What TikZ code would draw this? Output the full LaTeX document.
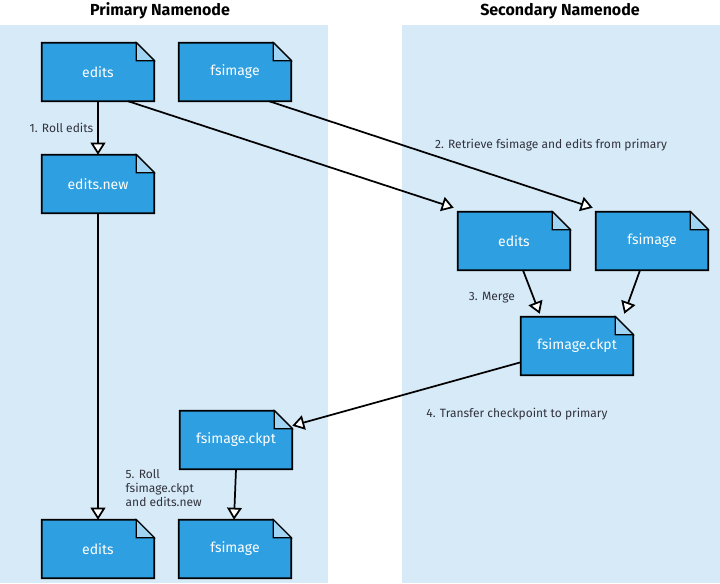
\documentclass[tikz,border=0pt]{standalone}
\usepackage{fontspec}
\setmainfont{Fira Sans}
\usetikzlibrary{arrows.meta,calc,backgrounds}
\definecolor{panel}{RGB}{214,234,248}
\definecolor{docblue}{RGB}{46,159,224}
\definecolor{foldblue}{RGB}{160,212,242}
\definecolor{labelgray}{RGB}{50,50,60}
\begin{document}
\begin{tikzpicture}[x=0.75pt,y=-0.75pt,
  doc/.style={rectangle,minimum width=84pt,minimum height=43.5pt,inner sep=0pt,
    text=white,font=\fontsize{10.5}{12}\selectfont},
  flow/.style={line width=1.3pt,-{Triangle[open,fill=white,length=9pt,width=11pt]}},
  steplabel/.style={text=labelgray,font=\fontsize{9}{10.5}\selectfont},
  title/.style={font=\bfseries\fontsize{12}{14}\selectfont}]
\useasboundingbox (0,0) rectangle (720,583);
\node[title] (ptitle) at (160,11) {Primary Namenode};
\node[title] (stitle) at (560,11) {Secondary Namenode};
% documents
\node[doc] (edits) at (98,72) {edits};
\node[doc] (fsimage) at (235,72) {fsimage};
\node[doc] (editsnew) at (98,184) {edits.new};
\node[doc] (sedits) at (514,241) {edits};
\node[doc] (sfsimage) at (652,241) {fsimage};
\node[doc] (sckpt) at (577,346) {fsimage.ckpt};
\node[doc] (pckpt) at (236,440) {fsimage.ckpt};
\node[doc] (newedits) at (98,549) {edits};
\node[doc] (newfsimage) at (235,549) {fsimage};
\begin{scope}[on background layer]
% panels
\fill[panel] (0,25) rectangle (328,583);
\fill[panel] (402,25) rectangle (720,583);
\foreach \d in {edits,fsimage,editsnew,sedits,sfsimage,sckpt,pckpt,newedits,newfsimage}{
  \filldraw[fill=docblue,draw=black,line width=1.3pt] (\d.north west) -- ($(\d.north east)+(-18,0)$)
    -- ($(\d.north east)+(0,18)$) -- (\d.south east) -- (\d.south west) -- cycle;
  \filldraw[fill=foldblue,draw=black,line width=0.8pt] ($(\d.north east)+(-18,0)$) -- ($(\d.north east)+(-18,18)$)
    -- ($(\d.north east)+(0,18)$) -- cycle;
}
\end{scope}
% steps
\draw[flow] (edits.south) -- (editsnew.north);
\node[steplabel,anchor=east] (roll) at (98,128) {1. Roll edits};
\draw[flow] ($(edits.south east)+(-26,0)$) -- ($(sedits.north west)+(-4,-4)$);
\draw[flow] ($(fsimage.south east)+(-22,0)$) -- ($(sfsimage.north west)+(-3,-4)$);
\node[steplabel] (retrieve) at (551,145) {2. Retrieve fsimage and edits from primary};
\draw[flow] ($(sedits.south)+(9,0)$) -- ($(sckpt.north west)+(19,-3)$);
\draw[flow] ($(sfsimage.south)+(-12,0)$) -- ($(sckpt.north east)+(-9,-3)$);
\node[steplabel] (merge) at (492,298) {3. Merge};
\draw[flow] ($(sckpt.south west)+(0,-13)$) -- ($(pckpt.north east)+(0,15)$);
\node[steplabel] (transfer) at (517,414) {4. Transfer checkpoint to primary};
\draw[flow] (editsnew.south) -- (newedits.north);
\draw[flow] (pckpt.south) -- ($(newfsimage.north)+(-1,0)$);
\node[steplabel,anchor=north west,align=left] (rollckpt) at (121,465) {5. Roll\\fsimage.ckpt\\and edits.new};
\end{tikzpicture}
\end{document}
